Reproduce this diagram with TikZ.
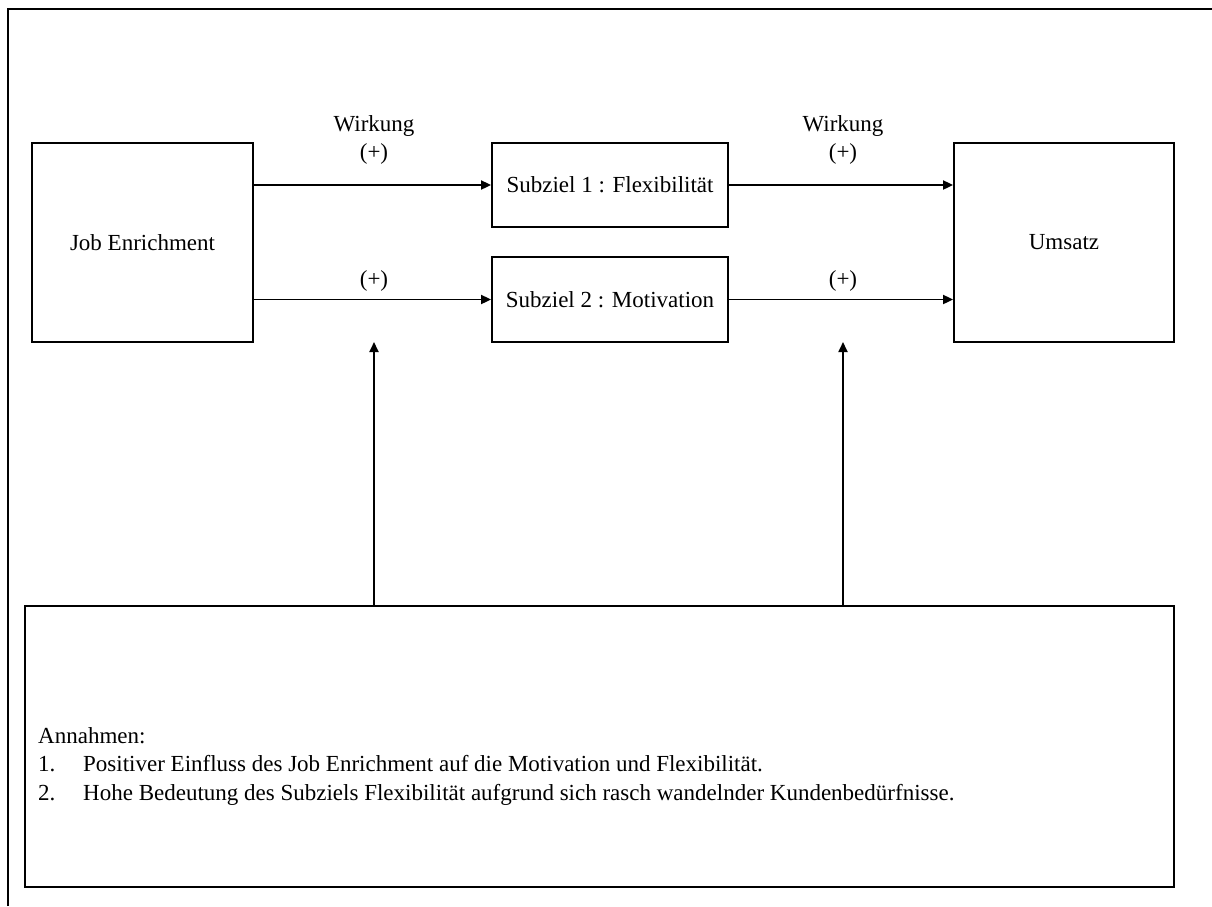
\documentclass[tikz,border=0pt]{standalone}
\usepackage{fontspec}
\setmainfont{Liberation Serif}
\usetikzlibrary{arrows.meta}
\begin{document}
\begin{tikzpicture}[x=1pt,y=-1pt,
  font=\fontsize{23}{28.3}\selectfont,
  box/.style={draw,line width=1.8pt,inner sep=0pt,align=center},
  conn/.style={line width=1.8pt,-{Triangle[length=10pt,width=9pt]}},
  lbl/.style={inner sep=0pt,anchor=base},
  txt/.style={inner sep=0pt,anchor=base west}]
\useasboundingbox (0,0) rectangle (1212,906);
\draw[line width=2.2pt] (8,906) -- (8,9) -- (1212,9);
\node[box,minimum width=221pt,minimum height=199pt] (je) at (142.5,242.5) {Job Enrichment};
\node[box,minimum width=220pt,minimum height=199pt] (um) at (1064,242.5) {Umsatz};
\node[box,minimum width=236pt,minimum height=84pt] (s1) at (610,185) {Subziel 1 : Flexibilität};
\node[box,minimum width=236pt,minimum height=85pt] (s2) at (610,299.5) {Subziel 2 : Motivation};
\node[box,minimum width=1149pt,minimum height=281pt] (bx) at (599.5,746.5) {};
\draw[conn] (je.east |- s1.west) -- (s1.west);
\draw[conn] (je.east |- s2.west) -- (s2.west);
\draw[conn] (s1.east) -- (um.west |- s1.east);
\draw[conn] (s2.east) -- (um.west |- s2.east);
\coordinate (t1) at (374,342);
\coordinate (t2) at (843,342);
\draw[conn] (bx.north -| t1) -- (t1);
\draw[conn] (bx.north -| t2) -- (t2);
\node[lbl] (w1) at (374,131) {Wirkung};
\node[lbl] (p1) at (374,159) {(+)};
\node[lbl] (p2) at (374,286) {(+)};
\node[lbl] (w2) at (843,131) {Wirkung};
\node[lbl] (p3) at (843,159) {(+)};
\node[lbl] (p4) at (843,286) {(+)};
\node[txt] (an) at (38,743) {Annahmen:};
\node[txt] (n1) at (38,771.5) {1.};
\node[txt] (a1) at (83,771.5) {Positiver Einfluss des Job Enrichment auf die Motivation und Flexibilität.};
\node[txt] (n2) at (38,800) {2.};
\node[txt] (a2) at (83,800) {Hohe Bedeutung des Subziels Flexibilität aufgrund sich rasch wandelnder Kundenbedürfnisse.};
\end{tikzpicture}
\end{document}
